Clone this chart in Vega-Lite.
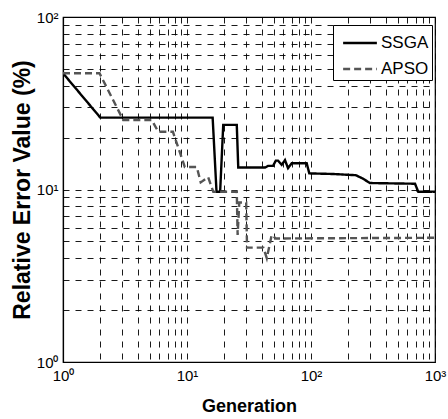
{
  "$schema": "https://vega.github.io/schema/vega-lite/v6.json",
  "width": 372,
  "height": 345,
  "autosize": {"type": "none"},
  "padding": {"left": 63, "top": 17, "right": 13, "bottom": 57},
  "background": "white",
  "config": {
    "view": {"stroke": "#000", "strokeWidth": 1.2},
    "font": "Liberation Sans"
  },
  "data": {
    "values": [
      {"series": "SSGA", "i": 1, "gen": 1, "err": 47.2},
      {"series": "SSGA", "i": 2, "gen": 2, "err": 26.1},
      {"series": "SSGA", "i": 3, "gen": 16.1, "err": 26.1},
      {"series": "SSGA", "i": 4, "gen": 17.3, "err": 9.7},
      {"series": "SSGA", "i": 5, "gen": 18.5, "err": 9.7},
      {"series": "SSGA", "i": 6, "gen": 19.6, "err": 23.7},
      {"series": "SSGA", "i": 7, "gen": 25.2, "err": 23.7},
      {"series": "SSGA", "i": 8, "gen": 25.9, "err": 13.4},
      {"series": "SSGA", "i": 9, "gen": 42.6, "err": 13.4},
      {"series": "SSGA", "i": 10, "gen": 45, "err": 13.7},
      {"series": "SSGA", "i": 11, "gen": 49.4, "err": 13.7},
      {"series": "SSGA", "i": 12, "gen": 52, "err": 14.7},
      {"series": "SSGA", "i": 13, "gen": 54.2, "err": 14.7},
      {"series": "SSGA", "i": 14, "gen": 58, "err": 13.9},
      {"series": "SSGA", "i": 15, "gen": 61.7, "err": 14.8},
      {"series": "SSGA", "i": 16, "gen": 65.3, "err": 13.3},
      {"series": "SSGA", "i": 17, "gen": 69.9, "err": 14.2},
      {"series": "SSGA", "i": 18, "gen": 92.3, "err": 14.2},
      {"series": "SSGA", "i": 19, "gen": 96.9, "err": 12.4},
      {"series": "SSGA", "i": 20, "gen": 150, "err": 12.3},
      {"series": "SSGA", "i": 21, "gen": 230, "err": 12.1},
      {"series": "SSGA", "i": 22, "gen": 260, "err": 11.6},
      {"series": "SSGA", "i": 23, "gen": 299, "err": 10.9},
      {"series": "SSGA", "i": 24, "gen": 690, "err": 10.8},
      {"series": "SSGA", "i": 25, "gen": 733, "err": 9.7},
      {"series": "SSGA", "i": 26, "gen": 1000, "err": 9.7},
      {"series": "APSO", "i": 1, "gen": 1, "err": 47.2},
      {"series": "APSO", "i": 2, "gen": 1.97, "err": 47.2},
      {"series": "APSO", "i": 3, "gen": 3.06, "err": 25.3},
      {"series": "APSO", "i": 4, "gen": 5.19, "err": 25.3},
      {"series": "APSO", "i": 5, "gen": 5.87, "err": 21.6},
      {"series": "APSO", "i": 6, "gen": 7.7, "err": 21.6},
      {"series": "APSO", "i": 7, "gen": 9.6, "err": 13.5},
      {"series": "APSO", "i": 8, "gen": 12.0, "err": 13.5},
      {"series": "APSO", "i": 9, "gen": 12.9, "err": 11.0},
      {"series": "APSO", "i": 10, "gen": 14.8, "err": 11.8},
      {"series": "APSO", "i": 11, "gen": 16.3, "err": 9.7},
      {"series": "APSO", "i": 12, "gen": 25.2, "err": 9.7},
      {"series": "APSO", "i": 13, "gen": 25.6, "err": 5.45},
      {"series": "APSO", "i": 14, "gen": 26.4, "err": 8.4},
      {"series": "APSO", "i": 15, "gen": 30.0, "err": 8.4},
      {"series": "APSO", "i": 16, "gen": 30.5, "err": 4.6},
      {"series": "APSO", "i": 17, "gen": 41.3, "err": 4.6},
      {"series": "APSO", "i": 18, "gen": 44, "err": 4.0},
      {"series": "APSO", "i": 19, "gen": 48.2, "err": 5.45},
      {"series": "APSO", "i": 20, "gen": 52, "err": 5.2},
      {"series": "APSO", "i": 21, "gen": 1000, "err": 5.25}
    ]
  },
  "mark": {"type": "line", "clip": true, "strokeJoin": "miter"},
  "encoding": {
    "x": {
      "field": "gen",
      "type": "quantitative",
      "scale": {"type": "log", "domain": [1, 1000], "nice": false},
      "axis": {
        "title": "Generation",
        "titleFont": "Liberation Sans",
        "titleFontSize": 18,
        "titleFontWeight": "bold",
        "titleColor": "#000",
        "titlePadding": 14,
        "values": [1,2,3,4,5,6,7,8,9,10,20,30,40,50,60,70,80,90,100,200,300,400,500,600,700,800,900,1000],
        "labelExpr": "datum.value == 1 ? '10⁰' : datum.value == 10 ? '10¹' : datum.value == 100 ? '10²' : datum.value == 1000 ? '10³' : ''",
        "labelFont": "Liberation Sans",
        "labelFontSize": 15,
        "labelColor": "#000",
        "labelPadding": 6,
        "labelDx": 3,
        "labelOverlap": false,
        "labelFlush": false,
        "labelBound": false,
        "ticks": false,
        "domainColor": "#000",
        "domainWidth": 1.2,
        "grid": true,
        "gridColor": "#000",
        "gridDash": [6, 6],
        "gridWidth": 0.9,
        "gridOpacity": 1
      }
    },
    "y": {
      "field": "err",
      "type": "quantitative",
      "scale": {"type": "log", "domain": [1, 100], "nice": false},
      "axis": {
        "title": "Relative Error Value (%)",
        "titleFont": "Liberation Sans",
        "titleFontSize": 23,
        "titleFontWeight": "bold",
        "titleColor": "#000",
        "titlePadding": 2,
        "values": [1,2,3,4,5,6,7,8,9,10,20,30,40,50,60,70,80,90,100],
        "labelExpr": "datum.value == 1 ? '10⁰' : datum.value == 10 ? '10¹' : datum.value == 100 ? '10²' : ''",
        "labelFont": "Liberation Sans",
        "labelFontSize": 15,
        "labelColor": "#000",
        "labelPadding": 5,
        "labelOverlap": false,
        "labelFlush": false,
        "labelBound": false,
        "ticks": false,
        "domainColor": "#000",
        "domainWidth": 1.2,
        "grid": true,
        "gridColor": "#000",
        "gridDash": [6, 6],
        "gridWidth": 0.9,
        "gridOpacity": 1
      }
    },
    "color": {
      "field": "series",
      "type": "nominal",
      "scale": {"domain": ["SSGA", "APSO"], "range": ["#000000", "#555555"]},
      "legend": {
        "title": null,
        "orient": "none",
        "legendX": 270,
        "legendY": 8,
        "fillColor": "white",
        "strokeColor": "#000",
        "padding": 3,
        "symbolType": "M-1.25,0H1.25",
        "symbolSize": 729,
        "symbolOffset": 9,
        "symbolStrokeWidth": 2.5,
        "labelFont": "Liberation Sans",
        "labelFontSize": 17,
        "labelColor": "#000",
        "labelOffset": 6,
        "rowPadding": 3
      }
    },
    "strokeDash": {
      "field": "series",
      "type": "nominal",
      "scale": {"domain": ["SSGA", "APSO"], "range": [[1, 0], [7, 4]]},
      "legend": {
        "title": null,
        "orient": "none",
        "legendX": 270,
        "legendY": 8,
        "fillColor": "white",
        "strokeColor": "#000",
        "padding": 3,
        "symbolType": "M-1.25,0H1.25",
        "symbolSize": 729,
        "symbolOffset": 9,
        "symbolStrokeWidth": 2.5,
        "labelFont": "Liberation Sans",
        "labelFontSize": 17,
        "labelColor": "#000",
        "labelOffset": 6,
        "rowPadding": 3
      }
    },
    "strokeWidth": {"value": 2.4},
    "order": {"field": "i", "type": "quantitative"}
  }
}
